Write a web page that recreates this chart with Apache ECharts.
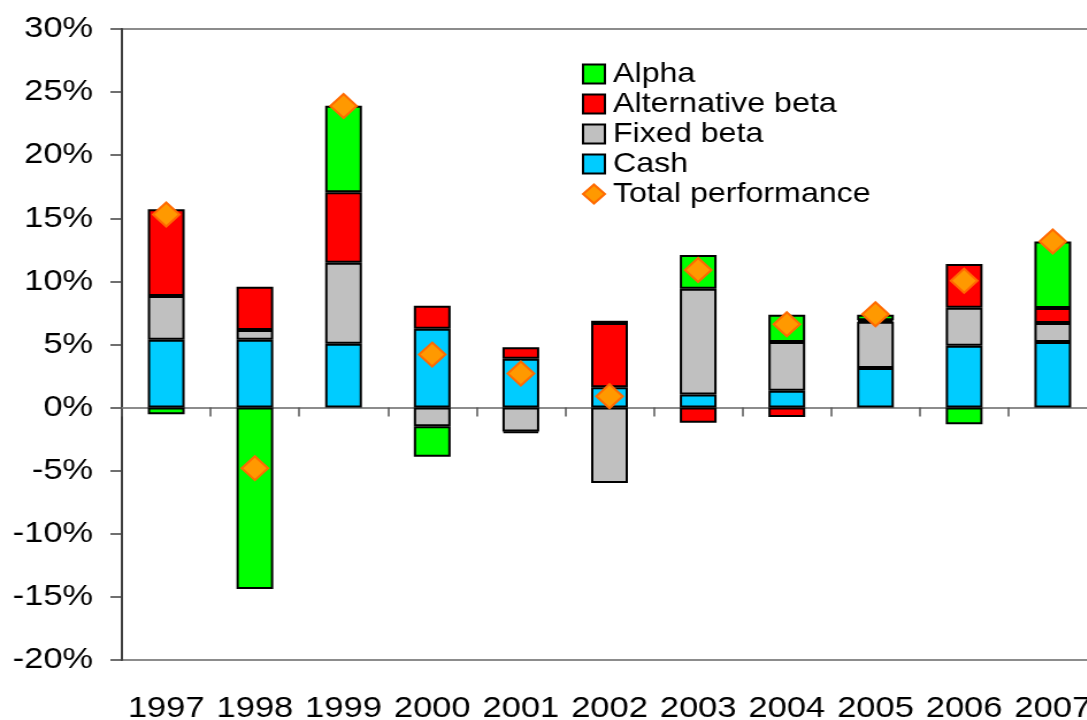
<!DOCTYPE html>
<html>
<head>
<meta charset="utf-8">
<script src="https://cdn.jsdelivr.net/npm/echarts@6/dist/echarts.min.js"></script>
<style>
html, body { margin: 0; padding: 0; width: 1087px; height: 720px; overflow: hidden; background: #fff; }
#wrap { position: relative; width: 1087px; height: 720px; overflow: hidden; }
/* the reference picture is stretched sideways, so the chart is drawn narrower and widened;
   the plot runs past the right edge, as in the reference */
#chart { position: absolute; left: 0; top: 0; width: 960px; height: 720px; transform: scaleX(1.15); transform-origin: 0 0; }
</style>
</head>
<body>
<div id="wrap"><div id="chart"></div></div>
<script>
// values, in %
const years = ['1997', '1998', '1999', '2000', '2001', '2002', '2003', '2004', '2005', '2006', '2007']
const cash = [5.38, 5.38, 5.06, 6.25, 3.88, 1.61, 1.03, 1.34, 3.14, 4.9, 5.2]
const fixedBeta = [3.46, 0.77, 6.41, -1.47, -1.9, -5.98, 8.38, 3.86, 3.66, 3.01, 1.5]
const altBeta = [6.88, 3.42, 5.59, 1.82, 0.9, 5.09, -1.21, -0.74, 0.12, 3.46, 1.19]
const alpha = [-0.52, -14.37, 6.86, -2.43, -0.12, 0.18, 2.69, 2.16, 0.44, -1.32, 5.27]
const totalPerf = [15.3, -4.8, 23.9, 4.2, 2.7, 0.9, 10.9, 6.6, 7.4, 10.05, 13.16]

const font = 'Liberation Sans, Arial, sans-serif'

const chart = echarts.init(document.getElementById('chart'))

function barSeries (name, data, color) {
  return {
    name: name,
    type: 'bar',
    stack: 'perf',
    xAxisIndex: 0,
    barWidth: 32,
    data: data,
    itemStyle: { color: color, borderColor: '#000', borderWidth: 2 },
    emphasis: { disabled: true }
  }
}

chart.setOption({
  animation: false,
  textStyle: { fontFamily: font },
  grid: {
    left: 106,
    right: 6,
    top: 29,
    bottom: 60,
    outerBoundsMode: 'none',
    show: true,
    borderColor: '#8c8c8c',
    borderWidth: 2,
    backgroundColor: 'transparent'
  },
  legend: {
    orient: 'vertical',
    left: 501,
    top: 54,
    itemWidth: 19,
    itemHeight: 19,
    itemGap: 0,
    data: [
      { name: 'Alpha', icon: 'rect' },
      { name: 'Alternative beta', icon: 'rect' },
      { name: 'Fixed beta', icon: 'rect' },
      { name: 'Cash', icon: 'rect' },
      { name: 'Total performance', icon: 'diamond' }
    ],
    textStyle: { color: '#000', fontSize: 28, lineHeight: 30, fontFamily: font, padding: [0, 0, 0, 2] }
  },
  xAxis: [{
    type: 'category',
    data: years,
    position: 'bottom',
    axisLine: { onZero: true, lineStyle: { color: '#8c8c8c', width: 2 } },
    axisTick: { show: true, inside: false, length: 9, lineStyle: { color: '#555', width: 1.5 } },
    axisLabel: { show: false }
  }, {
    type: 'category',
    data: years,
    position: 'bottom',
    axisLine: { show: false, onZero: false },
    axisTick: { show: false },
    axisLabel: { show: true, interval: 0, margin: 34, color: '#000', fontSize: 30, fontFamily: font }
  }],
  yAxis: {
    type: 'value',
    min: -20,
    max: 30,
    interval: 5,
    axisLine: { show: true, lineStyle: { color: '#404040', width: 2 } },
    axisTick: { show: true, length: 10, lineStyle: { color: '#404040', width: 1.5 } },
    splitLine: { show: false },
    axisLabel: { formatter: '{value}%', margin: 25, color: '#000', fontSize: 30, fontFamily: font }
  },
  series: [
    barSeries('Cash', cash, '#00ccff'),
    barSeries('Fixed beta', fixedBeta, '#c0c0c0'),
    barSeries('Alternative beta', altBeta, '#ff0000'),
    barSeries('Alpha', alpha, '#00ff00'),
    {
      name: 'Total performance',
      type: 'scatter',
      xAxisIndex: 0,
      z: 5,
      symbol: 'diamond',
      symbolSize: [23, 24],
      data: totalPerf,
      itemStyle: { color: '#ff9900', borderColor: '#ff6a00', borderWidth: 2, opacity: 1 },
      emphasis: { disabled: true }
    }
  ]
})
</script>
</body>
</html>
